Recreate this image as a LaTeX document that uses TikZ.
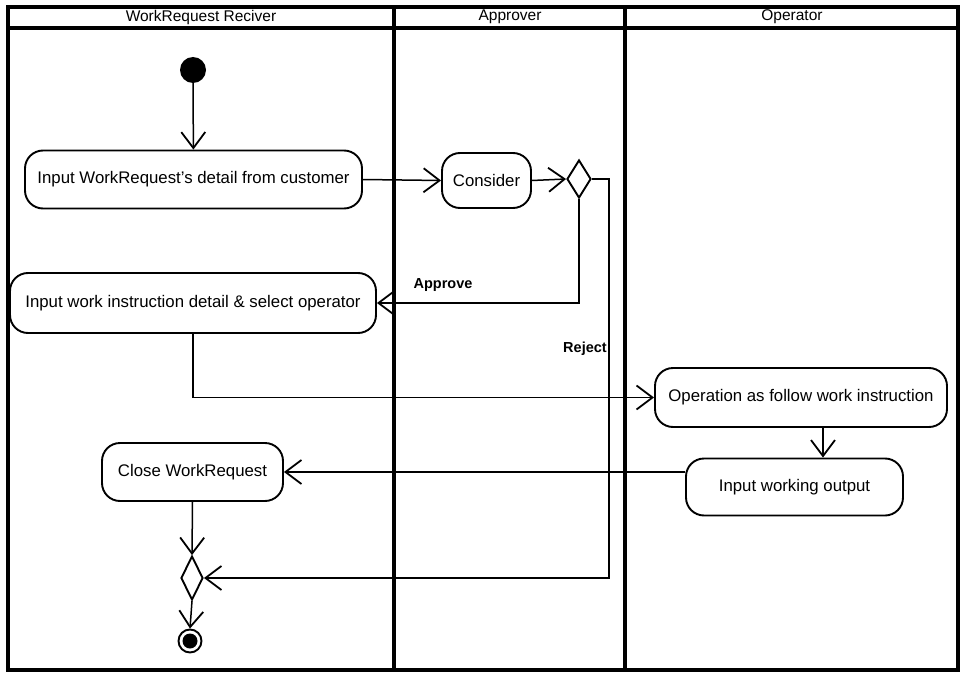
\documentclass[tikz,border=0pt]{standalone}
\usepackage{fontspec}
\setmainfont{Liberation Sans}
\usetikzlibrary{arrows.meta,shapes.geometric}
\begin{document}
\begin{tikzpicture}[x=1pt,y=-1pt,
  lane/.style={line width=3.4pt},
  act/.style={draw,line width=1.9pt,rounded corners=18pt,inner sep=0pt,font=\fontsize{16.8}{19}\selectfont},
  dia/.style={draw,diamond,line width=1.9pt,inner sep=0pt},
  flow/.style={line width=1.5pt,-{Straight Barb[length=16pt,width=24pt,line width=1.8pt]}},
  hdr/.style={font=\fontsize{15.5}{18}\selectfont},
  lbl/.style={font=\bfseries\fontsize{14.5}{17}\selectfont}]
\useasboundingbox (0,0) rectangle (961,674);
% swimlane frame
\draw[lane] (8,7) rectangle (958,670);
\draw[lane] (8,28) -- (958,28);
\draw[lane] (394,7) -- (394,670);
\draw[lane] (625,7) -- (625,670);
\node[hdr] (h1) at (201,17) {WorkRequest Reciver};
\node[hdr] (h2) at (510,17) {Approver};
\node[hdr] (h3) at (792,17) {Operator};
% nodes
\node[circle,fill=black,minimum size=26pt,inner sep=0pt] (start) at (193,70) {};
\node[act,minimum width=337pt,minimum height=58pt] (n1) at (193.5,179.5) {Input WorkRequest's detail from customer};
\node[act,minimum width=89pt,minimum height=55pt] (cons) at (486.5,180.5) {Consider};
\node[dia,minimum width=24pt,minimum height=38pt] (d1) at (579,179) {};
\node[act,minimum width=366pt,minimum height=60pt] (n2) at (193,303) {Input work instruction detail \& select operator};
\node[act,minimum width=292pt,minimum height=59pt] (op) at (801,397.5) {Operation as follow work instruction};
\node[act,minimum width=217pt,minimum height=57pt] (out) at (794.5,487) {Input working output};
\node[act,minimum width=181pt,minimum height=58pt] (close) at (192.5,472) {Close WorkRequest};
\node[dia,minimum width=22pt,minimum height=44pt] (m) at (192,578) {};
\node[circle,draw,line width=1.9pt,minimum size=23pt,inner sep=0pt] (end) at (190,641) {};
\node[circle,fill=black,minimum size=15pt,inner sep=0pt] (endin) at (end.center) {};
\coordinate (rj) at (609,179);
% connectors
\draw[flow] (start) -- (n1);
\draw[flow] (n1.east) -- (cons.west);
\draw[flow] (cons.east) -- (d1.west);
\draw[flow] (d1.south) |- (n2.east);
\draw[flow] (d1.east) -- (rj) |- (m.east);
\draw[flow] (n2.south) |- (op.west);
\draw[flow] (op.south -| 823,0) -- (out.north -| 823,0);
\draw[flow] (close.east -| out.west) -- (close.east);
\draw[flow] (close.south) -- (m.north);
\draw[flow] (m.south) -- (end.north);
% labels
\node[lbl] (la) at (443,285) {Approve};
\node[lbl] (lr) at (585,349) {Reject};
\end{tikzpicture}
\end{document}
